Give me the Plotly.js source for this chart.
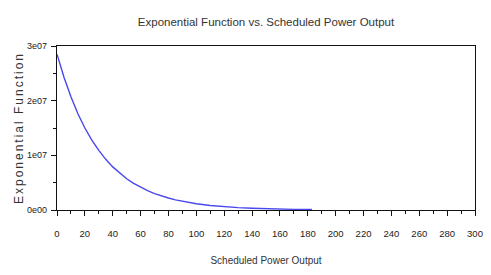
<!DOCTYPE html>
<html><head><meta charset="utf-8">
<script src="https://cdn.plot.ly/plotly-3.0.1.min.js"></script>
<style>html,body{margin:0;padding:0;background:#fff}#c{width:491px;height:275px}
#c .ytitle{letter-spacing:2px}</style>
</head><body><div id="c"></div>
<script>
const xVals = [0,5,10,15,20,25,30,35,40,45,50,55,60,65,70,75,80,85,90,95,100,110,120,130,140,150,160,170,183];
const yVals = [2.85e7,2.43e7,2.07e7,1.76e7,1.50e7,1.28e7,1.09e7,9.27e6,7.89e6,6.72e6,5.72e6,4.88e6,4.15e6,3.54e6,3.01e6,2.57e6,2.19e6,1.86e6,1.59e6,1.35e6,1.15e6,8.35e5,6.06e5,4.4e5,3.2e5,2.3e5,1.7e5,1.2e5,8e4];
const yTickVals = [0,1e7,2e7,3e7];
const yTickText = ['0e00','1e07','2e07','3e07'];
const yMinorVals = [5e6,1.5e7,2.5e7];

const fam = '"Liberation Sans", Arial, sans-serif';
Plotly.newPlot('c', [{
  x: xVals, y: yVals, type: 'scatter', mode: 'lines',
  line: {color: '#4848ee', width: 1.4}, hoverinfo: 'skip'
}], {
  width: 491, height: 275,
  margin: {l: 57, r: 16, t: 46, b: 65},
  paper_bgcolor: '#fff', plot_bgcolor: '#fff',
  showlegend: false,
  title: {text: 'Exponential Function vs. Scheduled Power Output', font: {family: fam, size: 11.5, color: '#333'}, xref: 'paper', x: 0.5, xanchor: 'center', y: 0.92, yanchor: 'middle'},
  xaxis: {
    range: [0, 300], tickmode: 'linear', tick0: 0, dtick: 20,
    ticks: 'outside', ticklen: 5, tickcolor: '#111', tickwidth: 1,
    minor: {tickmode: 'linear', dtick: 10, tick0: 0, ticks: 'outside', ticklen: 3, tickcolor: '#111', tickwidth: 1, showgrid: false},
    showline: true, linecolor: '#111', linewidth: 1.2, mirror: true,
    showgrid: false, zeroline: false, ticklabelstandoff: 9,
    tickfont: {family: fam, size: 9.5, color: '#222'},
    title: {text: 'Scheduled Power Output', font: {family: fam, size: 10, color: '#333'}, standoff: 19}
  },
  yaxis: {
    range: [0, 3e7], tickmode: 'array', tickvals: yTickVals, ticktext: yTickText,
    ticks: 'outside', ticklen: 5, tickcolor: '#111', tickwidth: 1,
    minor: {tickmode: 'array', tickvals: yMinorVals, ticks: 'outside', ticklen: 3, tickcolor: '#111', tickwidth: 1, showgrid: false},
    showline: true, linecolor: '#111', linewidth: 1.2, mirror: true,
    showgrid: false, zeroline: false, ticklabelstandoff: 2,
    tickfont: {family: fam, size: 9, color: '#222'},
    title: {text: 'Exponential Function', font: {family: fam, size: 12, color: '#333'}, standoff: 0}
  }
}, {staticPlot: true, displayModeBar: false});
</script></body></html>
